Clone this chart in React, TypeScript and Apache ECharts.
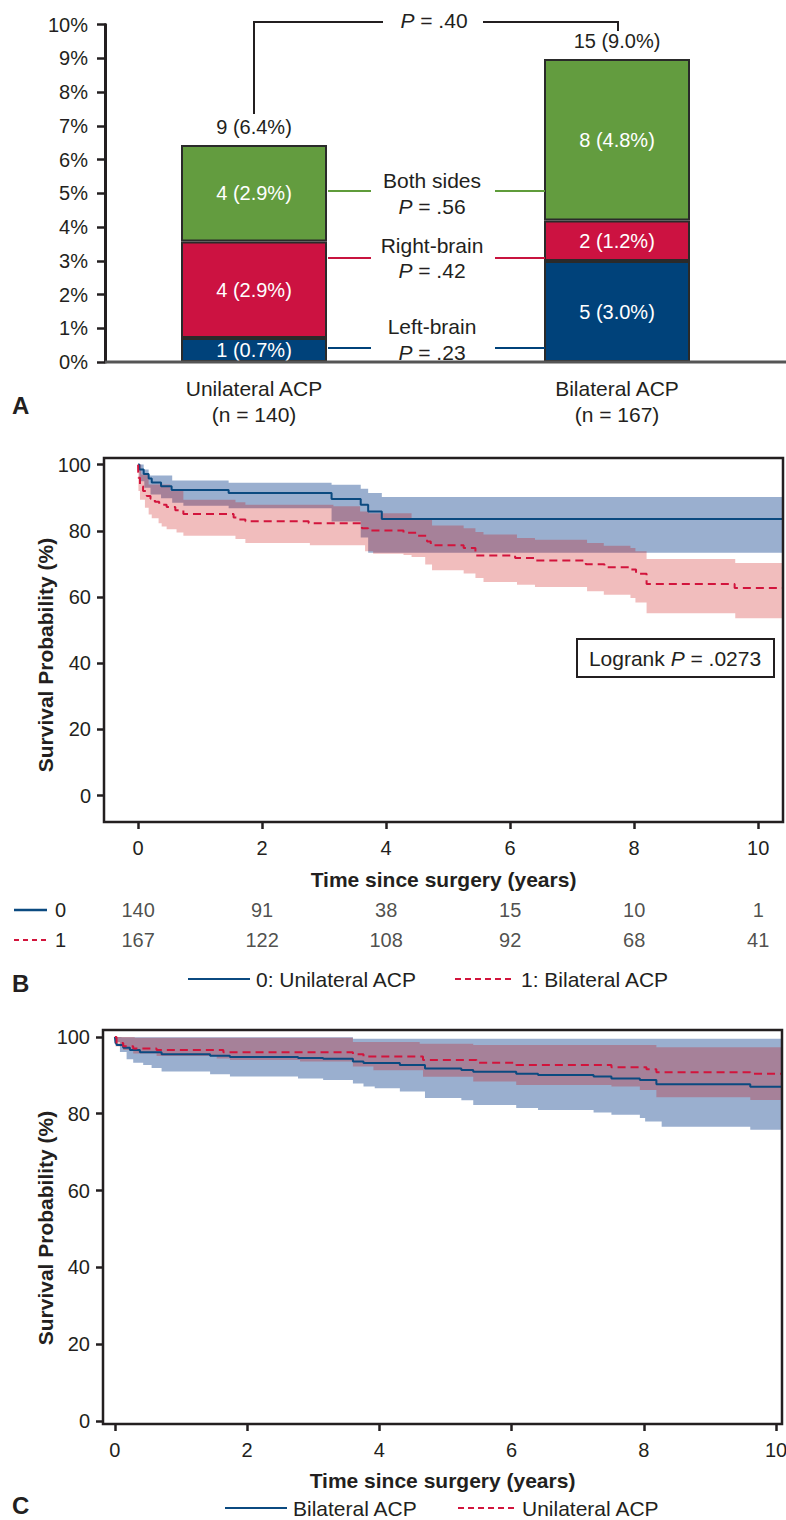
import React, { useEffect, useRef } from 'react';
import * as echarts from 'echarts';

// ---------- Panel A data ----------
const groups = ['Unilateral ACP', 'Bilateral ACP'];
const groupN = [140, 167];
const leftBrainPct = [0.71, 2.99];
const rightBrainPct = [2.86, 1.2];
const bothSidesPct = [2.86, 4.79];
const leftBrainLabel = ['1 (0.7%)', '5 (3.0%)'];
const rightBrainLabel = ['4 (2.9%)', '2 (1.2%)'];
const bothSidesLabel = ['4 (2.9%)', '8 (4.8%)'];
const totalLabel = ['9 (6.4%)', '15 (9.0%)'];

// ---------- Panel B data (0: Unilateral, 1: Bilateral) ----------
const b0Surv = [[0, 100], [0.02, 98.5], [0.09, 97.2], [0.17, 95.8], [0.22, 94.6], [0.37, 93.5], [0.54, 92.3], [1.46, 91.4], [3.12, 89.6], [3.59, 87.9], [3.71, 85.8], [3.93, 83.6], [10.5, 83.6]];
const b0Upper = [[0, 100], [0.09, 98.5], [0.17, 96.7], [0.55, 95.2], [1.46, 94.5], [3.12, 93.9], [3.59, 92.7], [3.71, 91.4], [3.93, 90.2], [10.5, 90.2]];
const b0Lower = [[0, 100], [0.02, 95], [0.1, 93], [0.2, 91], [0.37, 89.8], [0.55, 88.5], [0.73, 87.6], [1.46, 86.8], [3.12, 82.8], [3.59, 78], [3.71, 73.4], [10.5, 73.4]];
const b1Surv = [[0, 100], [0.003, 96], [0.03, 93.5], [0.08, 92], [0.14, 90.5], [0.2, 89.7], [0.27, 88.8], [0.34, 87.9], [0.46, 87.2], [0.6, 86.2], [0.73, 85.1], [1.54, 84.0], [1.62, 83.4], [1.73, 82.9], [2.75, 82.3], [3.61, 80.8], [3.71, 80.1], [4.28, 79.4], [4.5, 78.5], [4.66, 76.8], [4.72, 75.6], [5.25, 74.8], [5.44, 72.5], [6.08, 71.8], [6.41, 71.0], [7.22, 69.9], [7.52, 69.0], [7.95, 68.3], [8.03, 67.0], [8.2, 63.9], [9.62, 62.7], [10.5, 62.7]];
const b1Upper = [[0, 100], [0.05, 97], [0.17, 94], [0.52, 92], [0.73, 89.4], [1.57, 88.6], [1.73, 87.9], [3.15, 87.4], [3.58, 85.8], [3.72, 85.3], [4.41, 83.8], [4.74, 81.6], [5.25, 80.8], [5.44, 79.6], [5.57, 78.9], [6.11, 77.8], [6.4, 77.3], [7.24, 76.3], [7.51, 75.5], [7.94, 74.8], [8.02, 73.8], [8.2, 71.5], [9.63, 70.3], [10.5, 70.3]];
const b1Lower = [[0, 100], [0.005, 92], [0.03, 89.4], [0.11, 87], [0.17, 84.9], [0.22, 83.8], [0.33, 82.3], [0.38, 81.3], [0.46, 80.5], [0.62, 79.5], [0.73, 78.5], [1.57, 77.5], [1.73, 76.3], [2.77, 75.6], [3.66, 73.8], [3.79, 73.1], [4.28, 72.7], [4.41, 72.1], [4.63, 69.8], [4.74, 68.1], [5.25, 67.1], [5.44, 65.7], [5.57, 64.5], [6.11, 63.7], [6.4, 63.0], [7.24, 61.7], [7.51, 60.7], [7.94, 59.7], [8.02, 58.3], [8.2, 55.1], [9.63, 53.6], [10.5, 53.6]];
const riskTimes = [0, 2, 4, 6, 8, 10];
const risk0 = [140, 91, 38, 15, 10, 1];
const risk1 = [167, 122, 108, 92, 68, 41];
const riskRows = ['0', '1'];
const timeTicks = [0, 2, 4, 6, 8, 10];
const survTicks = [0, 20, 40, 60, 80, 100];

// ---------- Panel C data ----------
const cBilSurv = [[0, 100], [0.01, 98.4], [0.025, 97.9], [0.126, 97.2], [0.227, 96.6], [0.378, 96.0], [0.706, 95.5], [1.44, 95.1], [1.74, 94.8], [2.77, 94.5], [3.15, 94.3], [3.6, 93.6], [3.76, 93.2], [4.31, 92.7], [4.69, 91.8], [5.24, 91.4], [5.42, 90.9], [6.07, 90.4], [6.4, 90.1], [7.24, 89.7], [7.51, 89.2], [7.94, 88.8], [8.19, 87.7], [9.61, 87.0], [10.2, 87.0]];
const cBilUpper = [[0, 100], [0.1, 99.9], [3.6, 99.5], [10.2, 99.5]];
const cBilLower = [[0, 100], [0.01, 98.7], [0.076, 96.1], [0.177, 94.2], [0.277, 93.3], [0.428, 92.7], [0.555, 91.9], [0.706, 91.0], [1.44, 90.3], [1.74, 89.7], [2.77, 89.2], [3.15, 88.8], [3.6, 87.9], [3.76, 87.1], [3.93, 86.6], [4.31, 85.8], [4.69, 84.1], [5.24, 83.5], [5.42, 82.3], [6.07, 81.5], [6.4, 81.0], [7.24, 80.3], [7.51, 79.7], [7.94, 78.9], [8.02, 78.0], [8.27, 76.6], [9.61, 75.8], [10.2, 75.8]];
const cUniSurv = [[0, 100], [0.025, 98.4], [0.126, 97.6], [0.277, 97.0], [0.63, 96.6], [1.64, 96.0], [3.6, 95.5], [3.76, 94.9], [4.66, 94.0], [5.47, 93.3], [6.07, 92.7], [7.51, 92.1], [8.04, 91.6], [8.19, 90.8], [9.61, 90.4], [10.2, 90.4]];
const cUniUpper = [[0, 100], [0.3, 99.8], [3.6, 98.7], [4.61, 98.2], [5.42, 97.9], [8.19, 97.3], [10.2, 97.3]];
const cUniLower = [[0, 100], [0.01, 97.5], [0.126, 96.6], [0.277, 95.7], [0.63, 95.0], [1.54, 94.4], [1.74, 94.0], [2.8, 93.6], [3.6, 92.3], [3.91, 91.3], [4.66, 89.6], [5.42, 88.4], [6.07, 87.5], [7.51, 87.1], [7.94, 86.2], [8.19, 84.3], [9.61, 83.6], [10.2, 83.6]];

const FONT = "'Liberation Sans', Arial, Helvetica, sans-serif";
const INK = '#231f20';
const BLUE = '#0b4a80';
const RED = '#d2143c';
const BLUE_BAND = '#9aafcf';
const PINK_BAND = 'rgba(200,0,0,0.26)';

function stepPts(arr: number[][]) {
  const out: number[][] = [];
  for (let i = 0; i < arr.length; i++) {
    out.push([arr[i][0], arr[i][1]]);
    if (i < arr.length - 1) out.push([arr[i + 1][0], arr[i][1]]);
  }
  return out;
}

function band(up: number[][], lo: number[][], color: string, ai: number) {
  return {
    type: 'custom',
    xAxisIndex: ai,
    yAxisIndex: ai,
    clip: true,
    silent: true,
    z: 1,
    data: [[up[0][0], up[0][1]]],
    renderItem: (_p: any, api: any) => {
      const pts = stepPts(up).concat(stepPts(lo).reverse()).map((p) => api.coord(p));
      return { type: 'polygon', shape: { points: pts }, style: { fill: color } };
    },
  };
}

function km(data: number[][], color: string, dashed: boolean, ai: number) {
  return {
    type: 'line',
    xAxisIndex: ai,
    yAxisIndex: ai,
    step: 'end',
    showSymbol: false,
    symbol: 'none',
    z: 3,
    data,
    lineStyle: { color, width: 2, type: dashed ? [8, 5] : 'solid' },
  };
}

function txt(x: number, y: number, text: string, opts: any = {}) {
  const fs = opts.fontSize || 20;
  return {
    type: 'text',
    x,
    y,
    z: 50,
    rotation: opts.rotation || 0,
    style: {
      text,
      fill: opts.fill || INK,
      fontSize: fs,
      fontWeight: opts.bold ? 'bold' : 'normal',
      fontFamily: FONT,
      align: opts.align || 'center',
      verticalAlign: 'middle',
      rich: {
        i: { fontStyle: 'italic', fontSize: fs, fontFamily: FONT, fill: opts.fill || INK },
      },
    },
  };
}

function seg(x1: number, y1: number, x2: number, y2: number, color: string, width = 2, dash?: number[]) {
  return {
    type: 'line',
    z: 50,
    shape: { x1, y1, x2, y2 },
    style: { stroke: color, lineWidth: width, lineDash: dash },
  };
}

function barLayer(name: string, values: number[], labels: string[], color: string) {
  return {
    type: 'bar', name, stack: 'a', barWidth: 146, xAxisIndex: 0, yAxisIndex: 0, clip: false,
    data: values,
    itemStyle: { color, borderColor: '#2a2a2a', borderWidth: 2 },
    label: { show: true, position: 'inside', color: '#fff', fontSize: 20, fontFamily: FONT, formatter: (p: any) => labels[p.dataIndex] },
  };
}

export default function App() {
  const ref = useRef<HTMLDivElement>(null);
  useEffect(() => {
    if (!ref.current) return;
    const chart = echarts.init(ref.current, undefined, { renderer: 'svg' });
    const axisLbl = { fontSize: 20, color: INK, fontFamily: FONT };
    const tickStyle = { color: INK, width: 2.5 };
    const option: any = {
      animation: false,
      textStyle: { fontFamily: FONT },
      grid: [
        { left: 254, right: 169, top: 24.5, height: 337.5, outerBoundsMode: 'none' },
        { left: 104, right: 3, top: 458, height: 364, outerBoundsMode: 'none' },
        { left: 103, right: 4, top: 1030, height: 394, outerBoundsMode: 'none' },
        { left: 104, right: 3, top: 895, height: 60, outerBoundsMode: 'none' },
      ],
      xAxis: [
        {
          gridIndex: 0, type: 'category', data: groups, boundaryGap: false,
          axisLine: { show: false }, axisTick: { show: false }, splitLine: { show: false },
          axisLabel: {
            fontSize: 21, color: INK, fontFamily: FONT, interval: 0, lineHeight: 26, margin: 13,
            formatter: (v: string, i: number) => `${v}\n(n = ${groupN[i]})`,
          },
        },
        {
          gridIndex: 1, type: 'value', min: -0.55, max: 10.4,
          axisLine: { show: false, onZero: false }, splitLine: { show: false },
          axisTick: { show: true, customValues: timeTicks, length: 7, lineStyle: tickStyle },
          axisLabel: { ...axisLbl, customValues: timeTicks, margin: 16 },
          name: 'Time since surgery (years)', nameLocation: 'middle', nameGap: 47,
          nameTextStyle: { fontSize: 21, fontWeight: 'bold', color: INK, fontFamily: FONT },
        },
        {
          gridIndex: 2, type: 'value', min: -0.18, max: 10.09,
          axisLine: { show: false, onZero: false }, splitLine: { show: false },
          axisTick: { show: true, customValues: timeTicks, length: 7, lineStyle: tickStyle },
          axisLabel: { ...axisLbl, customValues: timeTicks, margin: 16 },
          name: 'Time since surgery (years)', nameLocation: 'middle', nameGap: 46,
          nameTextStyle: { fontSize: 21, fontWeight: 'bold', color: INK, fontFamily: FONT },
        },
        { gridIndex: 3, type: 'value', min: -0.55, max: 10.4, show: false },
      ],
      yAxis: [
        {
          gridIndex: 0, type: 'value', min: 0, max: 10, interval: 1, offset: 149,
          axisLine: { show: true, onZero: false, lineStyle: { color: INK, width: 3 } },
          axisTick: { show: true, length: 8, lineStyle: tickStyle },
          axisLabel: { ...axisLbl, formatter: '{value}%', margin: 17 },
          splitLine: { show: false },
        },
        {
          gridIndex: 1, type: 'value', min: -8, max: 102,
          axisLine: { show: false, onZero: false }, splitLine: { show: false },
          axisTick: { show: true, customValues: survTicks, length: 7, lineStyle: tickStyle },
          axisLabel: { ...axisLbl, customValues: survTicks, margin: 13 },
        },
        {
          gridIndex: 2, type: 'value', min: -0.8, max: 101.8,
          axisLine: { show: false, onZero: false }, splitLine: { show: false },
          axisTick: { show: true, customValues: survTicks, length: 7, lineStyle: tickStyle },
          axisLabel: { ...axisLbl, customValues: survTicks, margin: 13 },
        },
        {
          gridIndex: 3, type: 'category', data: riskRows, inverse: true,
          axisLine: { show: false }, axisTick: { show: false }, splitLine: { show: false },
          axisLabel: { ...axisLbl, margin: 38 },
        },
      ],
      series: [
        barLayer('Left-brain', leftBrainPct, leftBrainLabel, '#00427a'),
        barLayer('Right-brain', rightBrainPct, rightBrainLabel, '#cc1241'),
        barLayer('Both sides', bothSidesPct, bothSidesLabel, '#639c3f'),
        {
          type: 'bar', name: 'Total', stack: 'a', barWidth: 146, xAxisIndex: 0, yAxisIndex: 0, clip: false,
          data: groups.map(() => 0),
          itemStyle: { color: 'rgba(0,0,0,0)', borderWidth: 0 },
          label: { show: true, position: 'top', distance: 8, color: INK, fontSize: 20, fontFamily: FONT, formatter: (p: any) => totalLabel[p.dataIndex] },
        },
        band(b0Upper, b0Lower, BLUE_BAND, 1),
        band(b1Upper, b1Lower, PINK_BAND, 1),
        km(b0Surv, BLUE, false, 1),
        km(b1Surv, RED, true, 1),
        band(cBilUpper, cBilLower, BLUE_BAND, 2),
        band(cUniUpper, cUniLower, PINK_BAND, 2),
        km(cBilSurv, BLUE, false, 2),
        km(cUniSurv, RED, true, 2),
        {
          type: 'scatter', xAxisIndex: 3, yAxisIndex: 3, symbolSize: 1, itemStyle: { color: 'rgba(0,0,0,0)' },
          data: riskTimes.map((t, i) => [t, riskRows[0], risk0[i]]),
          label: { show: true, position: 'inside', color: INK, fontSize: 20, fontFamily: FONT, formatter: (p: any) => String(p.value[2]) },
        },
        {
          type: 'scatter', xAxisIndex: 3, yAxisIndex: 3, symbolSize: 1, itemStyle: { color: 'rgba(0,0,0,0)' },
          data: riskTimes.map((t, i) => [t, riskRows[1], risk1[i]]),
          label: { show: true, position: 'inside', color: INK, fontSize: 20, fontFamily: FONT, formatter: (p: any) => String(p.value[2]) },
        },
      ],
      graphic: [
        // Panel A baseline and annotations
        seg(105, 362, 786, 362, '#555', 3),
        { type: 'polyline', z: 50, shape: { points: [[254, 114], [254, 22], [383, 22]] }, style: { stroke: INK, lineWidth: 2, fill: null } },
        { type: 'polyline', z: 50, shape: { points: [[483, 22], [618, 22], [618, 31]] }, style: { stroke: INK, lineWidth: 2, fill: null } },
        txt(434, 20, '{i|P} = .40', { fontSize: 21 }),
        seg(328, 191, 371, 191, '#5f9c3a'),
        seg(495, 191, 545, 191, '#5f9c3a'),
        seg(328, 258, 371, 258, '#c8143f'),
        seg(495, 258, 545, 258, '#c8143f'),
        seg(328, 348, 371, 348, '#00427a'),
        seg(495, 348, 545, 348, '#00427a'),
        txt(432, 180, 'Both sides', { fontSize: 21 }),
        txt(432, 206, '{i|P} = .56', { fontSize: 21 }),
        txt(432, 245, 'Right-brain', { fontSize: 21 }),
        txt(432, 270, '{i|P} = .42', { fontSize: 21 }),
        txt(432, 326, 'Left-brain', { fontSize: 21 }),
        txt(432, 352, '{i|P} = .23', { fontSize: 21 }),
        txt(12, 405, 'A', { bold: true, fontSize: 24, align: 'left' }),
        // Panel B frame & extras
        { type: 'rect', z: 40, shape: { x: 104, y: 458, width: 679, height: 364 }, style: { fill: null, stroke: INK, lineWidth: 2.5 } },
        txt(45, 655, 'Survival Probability (%)', { bold: true, fontSize: 21, rotation: Math.PI / 2 }),
        { type: 'rect', z: 40, shape: { x: 577, y: 639, width: 197, height: 38 }, style: { fill: '#fff', stroke: INK, lineWidth: 2 } },
        txt(675, 658, 'Logrank {i|P} = .0273', { fontSize: 21 }),
        seg(14, 910, 47, 910, BLUE, 2.5),
        seg(14, 940, 47, 940, RED, 2, [5, 4]),
        seg(188, 979, 250, 979, BLUE, 2),
        txt(256, 979, '0: Unilateral ACP', { align: 'left', fontSize: 21 }),
        seg(455, 979, 515, 979, RED, 2, [6, 4]),
        txt(521, 979, '1: Bilateral ACP', { align: 'left', fontSize: 21 }),
        txt(12, 983, 'B', { bold: true, fontSize: 24, align: 'left' }),
        // Panel C frame & extras
        { type: 'rect', z: 40, shape: { x: 103, y: 1030, width: 679, height: 394 }, style: { fill: null, stroke: INK, lineWidth: 2.5 } },
        txt(45, 1228, 'Survival Probability (%)', { bold: true, fontSize: 21, rotation: Math.PI / 2 }),
        seg(225, 1508, 287, 1508, BLUE, 2),
        txt(293, 1508, 'Bilateral ACP', { align: 'left', fontSize: 21 }),
        seg(458, 1508, 515, 1508, RED, 2, [6, 4]),
        txt(522, 1508, 'Unilateral ACP', { align: 'left', fontSize: 21 }),
        txt(12, 1505, 'C', { bold: true, fontSize: 24, align: 'left' }),
      ],
    };
    chart.setOption(option);
    return () => chart.dispose();
  }, []);
  return (
    <div
      ref={ref}
      style={{ position: 'absolute', left: 0, top: 0, width: 786, height: 1520, background: '#fff' }}
    />
  );
}
